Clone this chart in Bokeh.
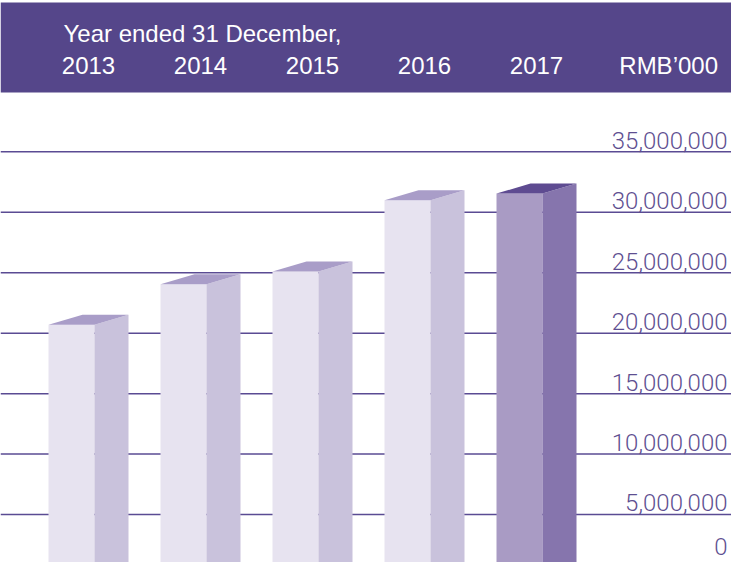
from bokeh.plotting import figure
from bokeh.models import Range1d, ColumnDataSource
from bokeh.core.properties import value
from bokeh.embed import file_html
from bokeh.resources import INLINE

# ---------------- data ----------------
years = ["2013", "2014", "2015", "2016", "2017"]
revenue = [20_700_000, 24_050_000, 25_100_000, 31_000_000, 31_550_000]
tick_values = [0, 5_000_000, 10_000_000, 15_000_000, 20_000_000,
               25_000_000, 30_000_000, 35_000_000]
tick_labels = ["0", "5,000,000", "10,000,000", "15,000,000", "20,000,000",
               "25,000,000", "30,000,000", "35,000,000"]
header_title = "Year ended 31 December,"
unit_label = "RMB\u2019000"

# ---------------- layout / style ----------------
W, H = 731, 562
PX_PER_CAT = 112.0          # px between bars
PX_PER_VAL = 12.09 / 1e6    # px per unit value
X0_PAGE = 79.0              # page-x of first bar's front centre
ZERO_PAGE = 582.5           # page-y of the zero value
FONT_SIZE = "24px"
HALF_CAP = 8.6              # px from baseline to middle of capitals

def xd(page_x):
    return (page_x - X0_PAGE) / PX_PER_CAT

def yd(page_y):
    return (ZERO_PAGE - page_y) / PX_PER_VAL

FW = 46 / PX_PER_CAT        # front face width
DX = 34 / PX_PER_CAT        # depth in x
DY = 10 / PX_PER_VAL        # depth in y

HEADER = "#55468a"
GRID = "#5a4b93"
LABEL = "#5e4f91"
FRONT = ["#e7e3f0"] * 4 + ["#a99bc4"]
SIDE = ["#c9c2dc"] * 4 + ["#8675ad"]
TOP = ["#a99dc8"] * 4 + ["#5e4b91"]
FONT = value("Liberation Sans")
LIGHT_FONT = value("Roboto Light")

p = figure(width=W, height=H, output_backend="svg", toolbar_location=None,
           x_range=Range1d(xd(8), xd(8 + W)),
           y_range=Range1d(yd(8 + H), yd(8)),
           min_border=0, outline_line_color=None,
           x_axis_location=None, y_axis_location=None)
p.grid.visible = False
p.background_fill_color = "white"
p.border_fill_color = "white"

# header band
p.quad(left=[xd(8)], right=[xd(739)], top=[yd(10)], bottom=[yd(100)],
       fill_color=HEADER, line_color=None)
p.text(x=[xd(71)], y=[yd(50 - HALF_CAP)], text=[header_title], text_font=FONT,
       text_font_size=FONT_SIZE, text_color="white", text_align="left",
       text_baseline="middle")
xs = list(range(len(years)))
p.text(x=[i + DX / 2 for i in xs], y=[yd(82 - HALF_CAP)] * len(years), text=years,
       text_font=FONT, text_font_size=FONT_SIZE, text_color="white",
       text_align="center", text_baseline="middle")
p.text(x=[xd(725.5)], y=[yd(82 - HALF_CAP)], text=[unit_label], text_font=FONT,
       text_font_size=FONT_SIZE, text_color="white", text_align="right",
       text_baseline="middle")

# gridlines (behind bars)
p.segment(x0=[xd(8)] * len(tick_values), x1=[xd(747)] * len(tick_values),
          y0=tick_values, y1=tick_values, line_color=GRID, line_width=1.5)

# tick labels: baseline 3px above each line, kept inside the frame
label_y = []
for v in tick_values:
    base_page = ZERO_PAGE - v * PX_PER_VAL - 3
    base_page = min(base_page, 8 + H - 7)
    label_y.append(yd(base_page - HALF_CAP))
p.text(x=[xd(735)] * len(tick_values), y=label_y, text=tick_labels,
       text_font=LIGHT_FONT, text_font_size=FONT_SIZE, text_color=LABEL,
       text_align="right", text_baseline="middle")

# 3D bars
front = ColumnDataSource(dict(left=[i - FW / 2 for i in xs],
                              right=[i + FW / 2 for i in xs],
                              top=revenue, bottom=[0] * len(xs), color=FRONT))
p.quad(left="left", right="right", top="top", bottom="bottom",
       fill_color="color", line_color=None, source=front)

side_x, side_y, top_x, top_y = [], [], [], []
for i, v in zip(xs, revenue):
    r = i + FW / 2
    l = i - FW / 2
    side_x.append([r, r + DX, r + DX, r])
    side_y.append([0, DY, v + DY, v])
    top_x.append([l, r, r + DX, l + DX])
    top_y.append([v, v, v + DY, v + DY])
p.patches(xs=side_x, ys=side_y, fill_color=SIDE, line_color=None)
p.patches(xs=top_x, ys=top_y, fill_color=TOP, line_color=None)

open("out.html", "w").write(file_html(p, INLINE))
